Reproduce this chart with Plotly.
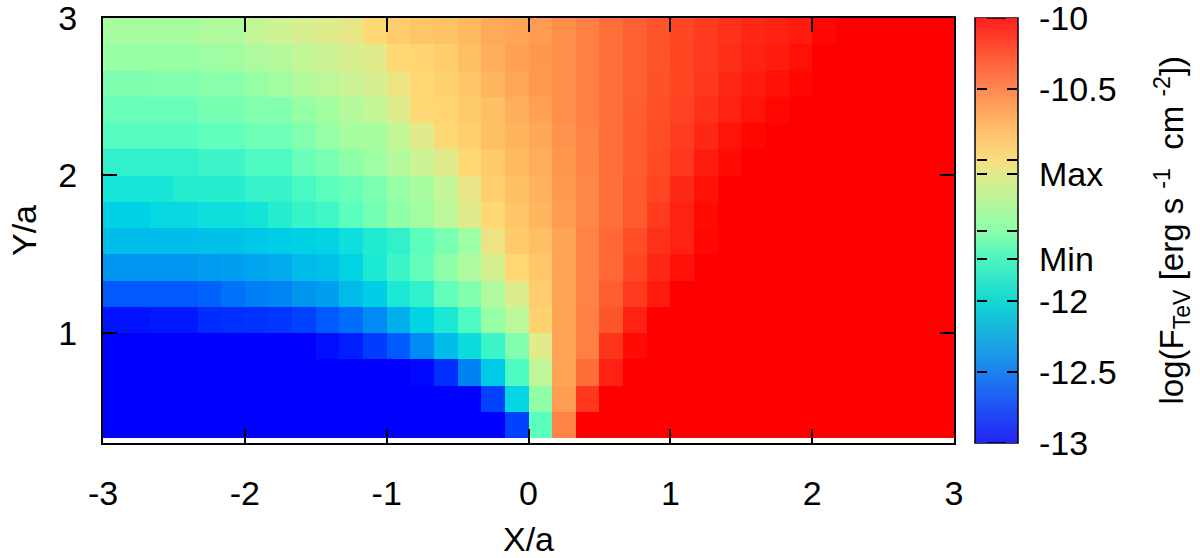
import plotly.graph_objects as go

# Log flux per cell, top row of the map first (36 columns, 16 rows)
row00 = [-11.38,-11.38,-11.38,-11.38,-11.34,-11.34,-11.27,-11.22,-11.16,-11.12,-11.06,-10.90,-10.84,-10.80,-10.78,-10.72,-10.63,-10.60,-10.56,-10.50,-10.44,-10.38,-10.33,-10.28,-10.23,-10.19,-10.15,-10.12,-10.10,-10.08,-10.02,-10.00,-10.00,-10.00,-10.00,-10.00]
row01 = [-11.44,-11.44,-11.44,-11.44,-11.42,-11.40,-11.35,-11.33,-11.27,-11.22,-11.16,-11.10,-10.90,-10.88,-10.84,-10.76,-10.66,-10.58,-10.54,-10.50,-10.44,-10.38,-10.33,-10.28,-10.22,-10.18,-10.14,-10.10,-10.08,-10.05,-10.00,-10.00,-10.00,-10.00,-10.00,-10.00]
row02 = [-11.53,-11.53,-11.52,-11.52,-11.50,-11.50,-11.45,-11.40,-11.33,-11.29,-11.24,-11.16,-11.03,-10.90,-10.87,-10.79,-10.69,-10.61,-10.55,-10.50,-10.44,-10.38,-10.33,-10.27,-10.22,-10.17,-10.12,-10.08,-10.05,-10.02,-10.00,-10.00,-10.00,-10.00,-10.00,-10.00]
row03 = [-11.60,-11.60,-11.60,-11.60,-11.56,-11.56,-11.52,-11.52,-11.45,-11.40,-11.33,-11.27,-11.12,-10.91,-10.88,-10.82,-10.76,-10.66,-10.58,-10.50,-10.44,-10.38,-10.32,-10.26,-10.21,-10.15,-10.10,-10.06,-10.02,-10.00,-10.00,-10.00,-10.00,-10.00,-10.00,-10.00]
row04 = [-11.67,-11.67,-11.67,-11.67,-11.63,-11.63,-11.58,-11.58,-11.52,-11.45,-11.38,-11.38,-11.27,-11.10,-10.92,-10.85,-10.76,-10.69,-10.62,-10.52,-10.45,-10.38,-10.31,-10.25,-10.19,-10.12,-10.06,-10.02,-10.00,-10.00,-10.00,-10.00,-10.00,-10.00,-10.00,-10.00]
row05 = [-11.82,-11.82,-11.82,-11.82,-11.77,-11.77,-11.70,-11.70,-11.60,-11.55,-11.48,-11.42,-11.33,-11.24,-11.10,-10.90,-10.82,-10.72,-10.65,-10.54,-10.46,-10.38,-10.31,-10.24,-10.17,-10.08,-10.03,-10.00,-10.00,-10.00,-10.00,-10.00,-10.00,-10.00,-10.00,-10.00]
row06 = [-11.95,-11.95,-11.95,-11.87,-11.87,-11.87,-11.80,-11.80,-11.72,-11.65,-11.60,-11.54,-11.45,-11.38,-11.27,-11.05,-10.85,-10.76,-10.68,-10.55,-10.47,-10.38,-10.30,-10.22,-10.12,-10.05,-10.00,-10.00,-10.00,-10.00,-10.00,-10.00,-10.00,-10.00,-10.00,-10.00]
row07 = [-12.10,-12.10,-12.05,-12.05,-12.00,-12.00,-11.97,-11.87,-11.80,-11.75,-11.65,-11.56,-11.47,-11.40,-11.29,-11.10,-10.90,-10.79,-10.70,-10.56,-10.47,-10.38,-10.30,-10.18,-10.10,-10.03,-10.00,-10.00,-10.00,-10.00,-10.00,-10.00,-10.00,-10.00,-10.00,-10.00]
row08 = [-12.20,-12.20,-12.20,-12.20,-12.18,-12.18,-12.15,-12.12,-12.10,-12.08,-12.00,-11.90,-11.82,-11.65,-11.55,-11.42,-11.02,-10.82,-10.76,-10.60,-10.45,-10.35,-10.25,-10.15,-10.10,-10.02,-10.00,-10.00,-10.00,-10.00,-10.00,-10.00,-10.00,-10.00,-10.00,-10.00]
row09 = [-12.40,-12.40,-12.40,-12.40,-12.38,-12.36,-12.33,-12.30,-12.22,-12.18,-12.08,-11.92,-11.77,-11.62,-11.48,-11.35,-11.18,-10.90,-10.80,-10.60,-10.45,-10.35,-10.23,-10.12,-10.05,-10.00,-10.00,-10.00,-10.00,-10.00,-10.00,-10.00,-10.00,-10.00,-10.00,-10.00]
row10 = [-12.70,-12.70,-12.70,-12.70,-12.66,-12.58,-12.52,-12.48,-12.40,-12.36,-12.22,-12.12,-11.92,-11.82,-11.62,-11.52,-11.35,-11.12,-10.84,-10.60,-10.45,-10.32,-10.18,-10.08,-10.00,-10.00,-10.00,-10.00,-10.00,-10.00,-10.00,-10.00,-10.00,-10.00,-10.00,-10.00]
row11 = [-12.94,-12.94,-12.92,-12.92,-12.85,-12.84,-12.83,-12.82,-12.78,-12.70,-12.60,-12.46,-12.27,-12.08,-11.92,-11.70,-11.45,-11.30,-10.87,-10.60,-10.44,-10.28,-10.10,-10.00,-10.00,-10.00,-10.00,-10.00,-10.00,-10.00,-10.00,-10.00,-10.00,-10.00,-10.00,-10.00]
row12 = [-13.00,-13.00,-13.00,-13.00,-13.00,-13.00,-13.00,-13.00,-13.00,-12.95,-12.90,-12.80,-12.70,-12.46,-12.20,-12.02,-11.78,-11.52,-11.10,-10.60,-10.44,-10.16,-10.03,-10.00,-10.00,-10.00,-10.00,-10.00,-10.00,-10.00,-10.00,-10.00,-10.00,-10.00,-10.00,-10.00]
row13 = [-13.00,-13.00,-13.00,-13.00,-13.00,-13.00,-13.00,-13.00,-13.00,-13.00,-13.00,-13.00,-13.00,-12.98,-12.84,-12.50,-12.14,-11.70,-11.28,-10.60,-10.37,-10.10,-10.00,-10.00,-10.00,-10.00,-10.00,-10.00,-10.00,-10.00,-10.00,-10.00,-10.00,-10.00,-10.00,-10.00]
row14 = [-13.00,-13.00,-13.00,-13.00,-13.00,-13.00,-13.00,-13.00,-13.00,-13.00,-13.00,-13.00,-13.00,-13.00,-13.00,-13.00,-12.78,-12.07,-11.47,-10.57,-10.17,-10.00,-10.00,-10.00,-10.00,-10.00,-10.00,-10.00,-10.00,-10.00,-10.00,-10.00,-10.00,-10.00,-10.00,-10.00]
row15 = [-13.00,-13.00,-13.00,-13.00,-13.00,-13.00,-13.00,-13.00,-13.00,-13.00,-13.00,-13.00,-13.00,-13.00,-13.00,-13.00,-13.00,-12.78,-11.65,-10.45,-10.00,-10.00,-10.00,-10.00,-10.00,-10.00,-10.00,-10.00,-10.00,-10.00,-10.00,-10.00,-10.00,-10.00,-10.00,-10.00]

x_edges = [-3 + i / 6 for i in range(37)]
y_edges = [1 / 3 + j / 6 for j in range(17)]
z_rows = [row15, row14, row13, row12, row11, row10, row09, row08,
          row07, row06, row05, row04, row03, row02, row01, row00]

# colours of the map cells
palette_values = [-13, -12.7, -12.4, -12.1, -11.9, -11.65, -11.45, -11.25, -11.1, -10.9, -10.75, -10.6, -10.45, -10.3, -10.15, -10]
palette_colors = ["rgb(0,0,255)", "rgb(0,90,255)", "rgb(0,150,240)", "rgb(0,210,230)", "rgb(30,235,210)",
                  "rgb(90,255,190)", "rgb(150,255,165)", "rgb(200,245,150)", "rgb(225,235,140)", "rgb(255,215,115)",
                  "rgb(255,190,100)", "rgb(255,165,85)", "rgb(255,130,70)", "rgb(255,90,45)", "rgb(255,50,25)", "rgb(255,0,0)"]
# the colour bar is drawn slightly paler than the map
bar_values = [-13, -12.7, -12.5, -12, -11.7, -11.5, -11.1, -11, -10.75, -10.5, -10.25, -10]
bar_colors = ["rgb(35,35,245)", "rgb(30,90,245)", "rgb(30,130,240)", "rgb(20,215,210)", "rgb(75,245,190)", "rgb(140,255,170)",
              "rgb(225,235,140)", "rgb(250,220,125)", "rgb(255,185,105)", "rgb(255,135,80)", "rgb(255,85,55)", "rgb(255,30,30)"]

x_ticks = [-3, -2, -1, 0, 1, 2, 3]
y_ticks = [1, 2, 3]
cb_marks = [-13, -12.5, -12, -11.7, -11.5, -11.1, -11, -10.5, -10]
cb_label_values = [-13, -12.5, -12, -11.7, -11.1, -10.5, -10]
cb_labels = ["-13", "-12.5", "-12", "Min", "Max", "-10.5", "-10"]

FONT = "Liberation Sans"
SIZE = 34
to_scale = lambda vals, cols: [[(v + 13) / 3, c] for v, c in zip(vals, cols)]
map_scale = to_scale(palette_values, palette_colors)
bar_scale = to_scale(bar_values, bar_colors)

PL, PR, PT, PB = 103, 954, 18, 443
WIDTH, HEIGHT = 1200, 558
W = PR - PL
px = lambda p: (p - PL) / W


def cells(**kw):
    return go.Heatmap(x=x_edges, y=y_edges, z=z_rows, zmin=-13, zmax=-10, zsmooth=False, hoverinfo="skip", **kw)


cb_common = dict(xanchor="left", xref="paper", yref="paper", len=1, lenmode="fraction", y=0.5, yanchor="middle",
                 xpad=0, ypad=0, tickmode="array", ticklabeloverflow="allow")

fig = go.Figure()
# colour bar with its labels; the outside ticks are only spacing for the labels
fig.add_trace(cells(colorscale=bar_scale, colorbar=dict(
    cb_common, x=px(975), thickness=43, outlinewidth=1.5, outlinecolor="black",
    tickvals=cb_label_values, ticktext=cb_labels, ticks="outside", ticklen=14, tickwidth=1,
    tickcolor="rgba(0,0,0,0)", tickfont=dict(family=FONT, size=SIZE, color="black"))))
# the short black tick marks on the left and right edges of the bar
for left in (976, 1006):
    fig.add_trace(cells(colorscale=bar_scale, colorbar=dict(
        cb_common, x=px(left), thickness=11, outlinewidth=0, tickvals=cb_marks, ticks="inside", ticklen=10,
        tickwidth=1.5, tickcolor="black", showticklabels=False)))
# the map itself, on top
fig.add_trace(cells(colorscale=map_scale, showscale=False))

axis_common = dict(showgrid=False, zeroline=False, showline=True, linecolor="black", linewidth=2, mirror="allticks",
                   ticks="inside", ticklen=14, tickwidth=1.5, tickcolor="black", tickmode="array",
                   ticklabeloverflow="allow", tickfont=dict(family=FONT, size=SIZE, color="black"))

fig.update_layout(
    width=WIDTH, height=HEIGHT,
    margin=dict(l=PL, r=WIDTH - PR, t=PT, b=HEIGHT - PB, pad=0, autoexpand=False),
    paper_bgcolor="white", plot_bgcolor="white",
    font=dict(family=FONT, size=SIZE, color="black"),
    xaxis=dict(axis_common, range=[-3, 3], tickvals=x_ticks, ticktext=[str(v) for v in x_ticks], ticklabelstandoff=19,
               title=dict(text="X/a", standoff=19, font=dict(family=FONT, size=SIZE))),
    yaxis=dict(axis_common, range=[0.3, 3], tickvals=y_ticks, ticktext=[str(v) for v in y_ticks], ticklabelstandoff=17,
               title=dict(text="Y/a", standoff=11, font=dict(family=FONT, size=SIZE))),
    annotations=[dict(text="log(F<sub>TeV</sub> [erg s\u00a0<sup>-1</sup>\u00a0 cm\u00a0<sup>-2</sup>])", textangle=-90,
                      xref="paper", yref="paper", x=px(1172), y=0.5, xanchor="center", yanchor="middle",
                      showarrow=False, font=dict(family=FONT, size=33, color="black"))],
)

fig.write_html("out.html", config={"displayModeBar": False}, post_script="document.body.style.margin='0';")
